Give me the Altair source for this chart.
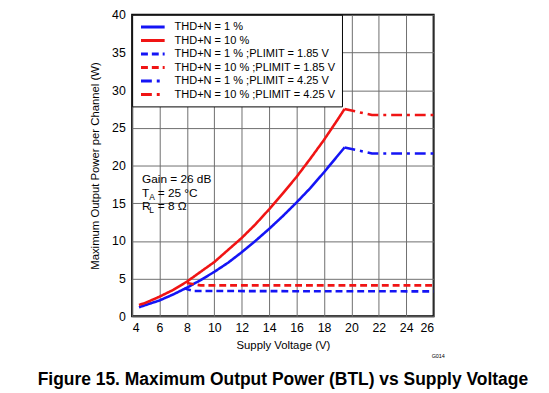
import altair as alt
import pandas as pd

FONT = "Liberation Sans"

S1 = "THD+N = 1 %"
S2 = "THD+N = 10 %"
S3 = "THD+N = 1 % ;PLIMIT = 1.85 V"
S4 = "THD+N = 10 % ;PLIMIT = 1.85 V"
S5 = "THD+N = 1 % ;PLIMIT = 4.25 V"
S6 = "THD+N = 10 % ;PLIMIT = 4.25 V"
series_order = [S1, S2, S3, S4, S5, S6]
series_colors = ["#1414f5", "#f01414", "#1414f5", "#f01414", "#1414f5", "#f01414"]
series_dashes = [[1, 0], [1, 0], [7, 4], [7, 4], [11, 5, 3, 5], [11, 5, 3, 5]]

# THD+N = 1 %
v_1 = [4.5, 5, 6, 7, 8, 9, 10, 11, 12, 13, 14, 15, 16, 17, 18, 19, 19.5]
p_1 = [1.2, 1.5, 2.1, 2.9, 3.8, 4.8, 5.9, 7.1, 8.5, 10.0, 11.6, 13.3, 15.1, 17.0, 19.1, 21.3, 22.4]
# THD+N = 10 %
v_10 = [4.5, 5, 6, 7, 8, 9, 10, 11, 12, 13, 14, 15, 16, 17, 18, 19, 19.5]
p_10 = [1.5, 1.8, 2.6, 3.5, 4.6, 5.9, 7.2, 8.8, 10.4, 12.2, 14.2, 16.3, 18.5, 20.9, 23.4, 26.1, 27.5]
# PLIMIT = 1.85 V
v_1_185 = [7.8, 8.5, 26]
p_1_185 = [3.7, 3.35, 3.3]
v_10_185 = [8.0, 9.0, 26]
p_10_185 = [4.4, 4.1, 4.1]
# PLIMIT = 4.25 V
v_1_425 = [19.5, 21.5, 26]
p_1_425 = [22.4, 21.6, 21.6]
v_10_425 = [19.5, 21.5, 26]
p_10_425 = [27.5, 26.7, 26.7]

x_ticks = list(range(4, 27, 2))
y_ticks = list(range(0, 41, 5))

ann_x = 4.72
ann_lines = ["Gain = 26 dB", "T", "R"]
ann_y = [18.2, 16.4, 14.6]

rows = []
for name, vs, ps in [(S1, v_1, p_1), (S2, v_10, p_10), (S3, v_1_185, p_1_185),
                     (S4, v_10_185, p_10_185), (S5, v_1_425, p_1_425), (S6, v_10_425, p_10_425)]:
    for v, p in zip(vs, ps):
        rows.append({"series": name, "v": v, "p": p})
df = pd.DataFrame(rows)

leg = dict(title=None, orient="top-left", offset=0, fillColor="white", strokeColor="black",
           padding=6, symbolOffset=8.5, symbolType="M-2.4,0L2.4,0", symbolSize=100,
           symbolStrokeWidth=3, symbolFillColor="transparent",
           labelFont=FONT, labelFontSize=11.2, labelColor="black", labelOffset=15.5,
           rowPadding=0.7, labelLimit=300)

xscale = alt.Scale(domain=[4, 26], nice=False, zero=False)
yscale = alt.Scale(domain=[0, 40], nice=False)
x_axis = alt.Axis(values=x_ticks, title="Supply Voltage (V)", grid=True, ticks=False,
                  domain=False, labelPadding=5, titlePadding=6, labelOverlap=False)
y_axis = alt.Axis(values=y_ticks, title="Maximum Output Power per Channel (W)", grid=True,
                  ticks=False, domain=False, labelPadding=7, titlePadding=11, labelOverlap=False)


def X(field):
    return alt.X(field, type="quantitative", scale=xscale, axis=x_axis)


def Y(field):
    return alt.Y(field, type="quantitative", scale=yscale, axis=y_axis)


lines = alt.Chart(df).mark_line(strokeWidth=2.6, clip=True).encode(
    x=X("v"), y=Y("p"),
    color=alt.Color("series:N", scale=alt.Scale(domain=series_order, range=series_colors),
                    legend=alt.Legend(**leg)),
    strokeDash=alt.StrokeDash("series:N", scale=alt.Scale(domain=series_order, range=series_dashes),
                              legend=alt.Legend(**leg)),
    order=alt.Order("v:Q"),
)

ann_df = pd.DataFrame({"x": [ann_x] * 3, "y": ann_y, "t": ann_lines})
ann_main = alt.Chart(ann_df).mark_text(align="left", baseline="middle", font=FONT,
                                       fontSize=12, color="black").encode(
    x=X("x"), y=Y("y"), text="t:N")

sub_df = pd.DataFrame({"x": [ann_x, ann_x], "y": [ann_y[1], ann_y[2]], "t": ["A", "L"]})
ann_sub = alt.Chart(sub_df).mark_text(align="left", baseline="middle", font=FONT,
                                      fontSize=8.5, color="black", dx=7.4, dy=4).encode(
    x=X("x"), y=Y("y"), text="t:N")

rest_df = pd.DataFrame({"x": [ann_x, ann_x], "y": [ann_y[1], ann_y[2]], "t": ["= 25 °C", "= 8 Ω"]})
ann_rest = alt.Chart(rest_df).mark_text(align="left", baseline="middle", font=FONT,
                                        fontSize=12, color="black", dx=16).encode(
    x=X("x"), y=Y("y"), text="t:N")

g_df = pd.DataFrame({"t": ["G014"]})
g_text = alt.Chart(g_df).mark_text(align="left", baseline="middle", font=FONT, fontSize=5.5,
                                   color="black").encode(
    x=alt.value(304), y=alt.value(346), text="t:N")

chart = alt.layer(lines, ann_main, ann_sub, ann_rest, g_text).properties(
    width=306, height=306,
    autosize=alt.AutoSizeParams(type="none"),
    padding={"left": 126, "top": 4, "right": 109, "bottom": 75},
    title=alt.TitleParams("Figure 15. Maximum Output Power (BTL) vs Supply Voltage",
                          orient="bottom", anchor="start", font=FONT, fontSize=17.7,
                          fontWeight="bold", color="black", offset=12, dx=-53),
).configure_view(stroke="black", strokeWidth=2).configure_axis(
    gridColor="#6e6e6e", gridWidth=1, gridOpacity=1,
    labelFont=FONT, labelFontSize=12.5, labelColor="black",
    titleFont=FONT, titleFontSize=11.5, titleFontWeight="normal", titleColor="black",
)

chart.save("out.html", embed_options={"renderer": "svg", "actions": False})
